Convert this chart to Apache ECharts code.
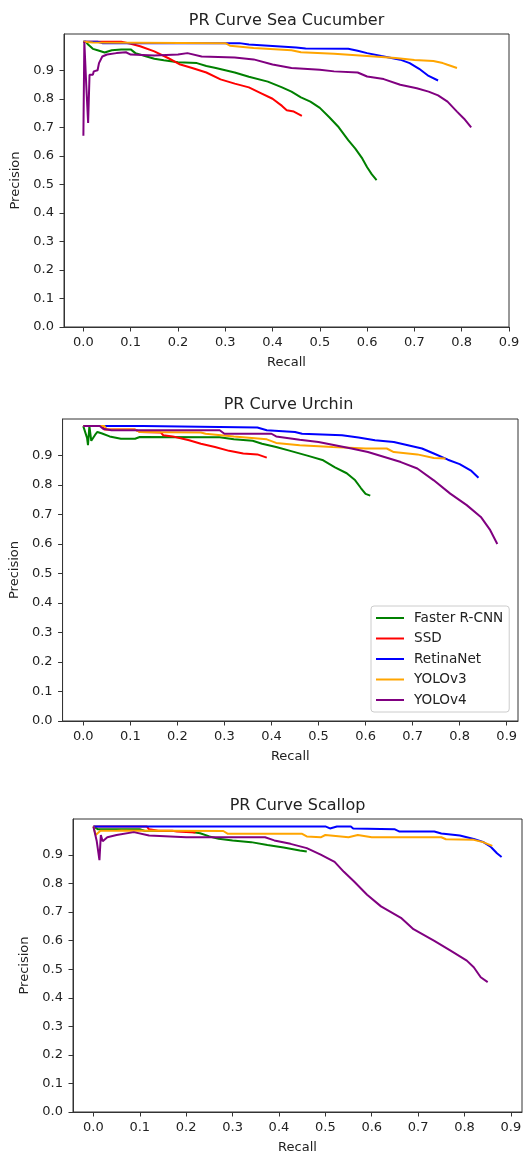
<!DOCTYPE html>
<html><head><meta charset="utf-8">
<script src="https://cdn.jsdelivr.net/npm/echarts@6/dist/echarts.min.js"></script>
<style>html,body{margin:0;padding:0;background:#fff}#c{width:531px;height:1155px}</style>
</head><body><div id="c"></div>
<script>
// ---- data: [recall, precision] ----
const modelNames = ['Faster R-CNN', 'SSD', 'RetinaNet', 'YOLOv3', 'YOLOv4'];
const chartTitles = ['PR Curve Sea Cucumber', 'PR Curve Urchin', 'PR Curve Scallop'];
const tickValues = [0, 0.1, 0.2, 0.3, 0.4, 0.5, 0.6, 0.7, 0.8, 0.9];

const seaFaster = [[0,1.0],[0.005,1.0],[0.01,0.99],[0.02,0.975],[0.03,0.97],[0.045,0.962],[0.06,0.97],[0.08,0.973],[0.1,0.973],[0.11,0.96],[0.13,0.95],[0.15,0.94],[0.17,0.935],[0.2,0.928],[0.24,0.925],[0.26,0.915],[0.28,0.908],[0.3,0.9],[0.32,0.892],[0.35,0.877],[0.39,0.86],[0.42,0.84],[0.44,0.825],[0.46,0.805],[0.48,0.79],[0.5,0.768],[0.52,0.735],[0.54,0.7],[0.56,0.655],[0.575,0.625],[0.59,0.59],[0.6,0.56],[0.61,0.535],[0.62,0.515]];
const seaSSD = [[0,1.0],[0.08,1.0],[0.1,0.993],[0.12,0.984],[0.15,0.966],[0.18,0.942],[0.205,0.92],[0.23,0.908],[0.26,0.892],[0.29,0.868],[0.32,0.853],[0.35,0.84],[0.375,0.82],[0.4,0.8],[0.42,0.775],[0.43,0.76],[0.445,0.755],[0.462,0.74]];
const seaRetina = [[0,1.0],[0.03,1.0],[0.04,0.995],[0.33,0.995],[0.35,0.99],[0.45,0.98],[0.47,0.976],[0.56,0.975],[0.58,0.968],[0.6,0.96],[0.63,0.95],[0.67,0.937],[0.69,0.925],[0.71,0.905],[0.73,0.88],[0.75,0.864]];
const seaYolo3 = [[0,1.0],[0.02,0.997],[0.3,0.995],[0.31,0.986],[0.36,0.978],[0.44,0.97],[0.46,0.963],[0.53,0.958],[0.6,0.95],[0.66,0.943],[0.7,0.936],[0.74,0.932],[0.76,0.925],[0.77,0.919],[0.79,0.908]];
const seaYolo4 = [[0,0.67],[0.002,1.0],[0.006,0.85],[0.01,0.715],[0.013,0.884],[0.02,0.884],[0.022,0.896],[0.03,0.9],[0.033,0.925],[0.04,0.948],[0.05,0.955],[0.07,0.96],[0.09,0.963],[0.1,0.955],[0.15,0.952],[0.2,0.955],[0.22,0.96],[0.25,0.948],[0.32,0.945],[0.36,0.938],[0.4,0.92],[0.44,0.908],[0.5,0.902],[0.53,0.896],[0.58,0.892],[0.6,0.878],[0.635,0.869],[0.67,0.849],[0.705,0.837],[0.73,0.825],[0.75,0.812],[0.77,0.79],[0.79,0.755],[0.805,0.73],[0.82,0.7]];

const urFaster = [[0,1.0],[0.008,0.96],[0.01,0.935],[0.013,1.0],[0.017,0.95],[0.025,0.97],[0.03,0.98],[0.04,0.975],[0.056,0.965],[0.08,0.957],[0.11,0.957],[0.12,0.963],[0.29,0.962],[0.32,0.955],[0.36,0.95],[0.38,0.94],[0.41,0.929],[0.44,0.916],[0.48,0.898],[0.51,0.884],[0.535,0.86],[0.56,0.84],[0.578,0.816],[0.59,0.79],[0.6,0.77],[0.61,0.764]];
const urSSD = [[0,1.0],[0.04,1.0],[0.045,0.988],[0.11,0.988],[0.12,0.98],[0.165,0.978],[0.17,0.969],[0.19,0.965],[0.2,0.961],[0.225,0.952],[0.25,0.94],[0.28,0.929],[0.31,0.916],[0.34,0.907],[0.37,0.904],[0.39,0.893]];
const urRetina = [[0,1.0],[0.127,1.0],[0.13,0.995],[0.37,0.995],[0.39,0.986],[0.45,0.98],[0.465,0.974],[0.55,0.969],[0.585,0.961],[0.62,0.952],[0.66,0.946],[0.69,0.935],[0.72,0.924],[0.745,0.907],[0.775,0.886],[0.8,0.871],[0.825,0.848],[0.84,0.825]];
const urYolo3 = [[0,1.0],[0.045,1.0],[0.05,0.988],[0.11,0.988],[0.12,0.98],[0.25,0.978],[0.26,0.974],[0.32,0.965],[0.39,0.955],[0.41,0.943],[0.46,0.935],[0.53,0.929],[0.6,0.924],[0.645,0.924],[0.66,0.912],[0.71,0.904],[0.745,0.892],[0.77,0.89]];
const urYolo4 = [[0,1.0],[0.035,1.0],[0.042,0.991],[0.06,0.986],[0.29,0.986],[0.3,0.974],[0.4,0.974],[0.41,0.965],[0.46,0.954],[0.5,0.946],[0.535,0.935],[0.57,0.924],[0.605,0.912],[0.64,0.895],[0.675,0.878],[0.71,0.856],[0.745,0.816],[0.78,0.771],[0.815,0.732],[0.845,0.692],[0.865,0.647],[0.88,0.6]];

const scFaster = [[0,1.0],[0.01,0.99],[0.1,0.99],[0.11,0.985],[0.2,0.984],[0.23,0.976],[0.25,0.965],[0.27,0.957],[0.3,0.951],[0.34,0.945],[0.375,0.935],[0.41,0.926],[0.445,0.916],[0.46,0.912]];
const scSSD = [[0,1.0],[0.115,1.0],[0.12,0.99],[0.14,0.985],[0.17,0.985],[0.18,0.982],[0.22,0.979]];
const scRetina = [[0,1.0],[0.5,1.0],[0.51,0.993],[0.525,1.0],[0.555,1.0],[0.56,0.993],[0.65,0.99],[0.66,0.982],[0.735,0.982],[0.75,0.975],[0.79,0.968],[0.82,0.956],[0.84,0.946],[0.857,0.928],[0.87,0.906],[0.88,0.893]];
const scYolo3 = [[0,1.0],[0.005,0.97],[0.015,0.985],[0.05,0.985],[0.06,0.986],[0.28,0.984],[0.29,0.974],[0.45,0.974],[0.46,0.965],[0.49,0.962],[0.5,0.97],[0.55,0.962],[0.57,0.97],[0.6,0.962],[0.75,0.962],[0.76,0.955],[0.82,0.953],[0.84,0.945],[0.86,0.932]];
const scYolo4 = [[0,1.0],[0.007,0.95],[0.013,0.882],[0.016,0.97],[0.02,0.948],[0.03,0.962],[0.05,0.97],[0.087,0.98],[0.12,0.968],[0.2,0.962],[0.37,0.962],[0.39,0.951],[0.425,0.939],[0.46,0.924],[0.49,0.901],[0.52,0.876],[0.54,0.841],[0.562,0.807],[0.59,0.761],[0.62,0.72],[0.663,0.68],[0.69,0.64],[0.735,0.599],[0.77,0.565],[0.805,0.53],[0.82,0.507],[0.835,0.472],[0.85,0.455]];

const chartData = [
  [seaFaster, seaSSD, seaRetina, seaYolo3, seaYolo4],
  [urFaster, urSSD, urRetina, urYolo3, urYolo4],
  [scFaster, scSSD, scRetina, scYolo3, scYolo4]
];
const colors = ['#008000', '#ff0000', '#0000ff', '#ffa500', '#800080'];

// ---- layout ----
const grids = [
  {left: 64, top: 34, width: 445, height: 293, xMin: -0.041, xMax: 0.9, yMax: 1.027, yGap: 38, titleTop: 13},
  {left: 59, top: 419, width: 459, height: 302, xMin: -0.044, xMax: 0.924, yMax: 1.024, yGap: 39, titleTop: 397},
  {left: 73, top: 819, width: 449, height: 296, xMin: -0.044, xMax: 0.924, yMax: 1.026, yGap: 38, titleTop: 798}
];
const FONT = 'DejaVu Sans';
const txt = {color: '#222', fontFamily: FONT, fontSize: 13};

const option = {
  animation: false,
  backgroundColor: '#fff',
  title: grids.map((g, i) => ({
    text: chartTitles[i], left: g.left + g.width / 2, top: g.titleTop, textAlign: 'center', padding: 0,
    textStyle: {color: '#222', fontFamily: FONT, fontSize: 16, fontWeight: 'normal', lineHeight: 16}
  })),
  grid: grids.map(g => ({left: g.left, top: g.top, width: g.width, height: g.height, show: true, borderColor: '#333', borderWidth: 1, backgroundColor: 'transparent'})),
  xAxis: grids.map((g, i) => ({
    type: 'value', gridIndex: i, min: g.xMin, max: g.xMax,
    name: 'Recall', nameLocation: 'middle', nameGap: 29, nameTextStyle: txt,
    axisLine: {show: true, onZero: false, lineStyle: {color: '#333', width: 1}},
    axisTick: {show: true, length: 4.5, customValues: tickValues, lineStyle: {color: '#333'}},
    axisLabel: {customValues: tickValues, margin: 9, formatter: v => v.toFixed(1), ...txt},
    splitLine: {show: false}
  })),
  yAxis: grids.map((g, i) => ({
    type: 'value', gridIndex: i, min: 0, max: g.yMax,
    name: 'Precision', nameLocation: 'middle', nameGap: g.yGap, nameTextStyle: txt,
    axisLine: {show: true, onZero: false, lineStyle: {color: '#333', width: 1}},
    axisTick: {show: true, length: 4.5, customValues: tickValues, lineStyle: {color: '#333'}},
    axisLabel: {customValues: tickValues, margin: 10, formatter: v => v.toFixed(1), ...txt},
    splitLine: {show: false}
  })),
  legend: {
    data: modelNames, orient: 'vertical', left: 371, top: 606,
    padding: [5, 6, 5, 4], itemWidth: 28, itemHeight: 14, itemGap: 6.5,
    backgroundColor: 'rgba(255,255,255,0.8)', borderColor: '#cccccc', borderWidth: 1, borderRadius: 3,
    textStyle: {color: '#222', fontFamily: FONT, fontSize: 13.6, padding: [0, 0, 0, 5]},
    itemStyle: {opacity: 0}, lineStyle: {width: 2},
    selectedMode: false
  },
  series: []
};

chartData.forEach((set, gi) => {
  set.forEach((data, si) => {
    option.series.push({
      type: 'line', name: modelNames[si], xAxisIndex: gi, yAxisIndex: gi,
      data: data, showSymbol: false, symbol: 'none',
      lineStyle: {color: colors[si], width: 2}, itemStyle: {color: colors[si]},
      z: 2 + si
    });
  });
});

const chart = echarts.init(document.getElementById('c'), null, {renderer: 'canvas'});
chart.setOption(option);
</script></body></html>
